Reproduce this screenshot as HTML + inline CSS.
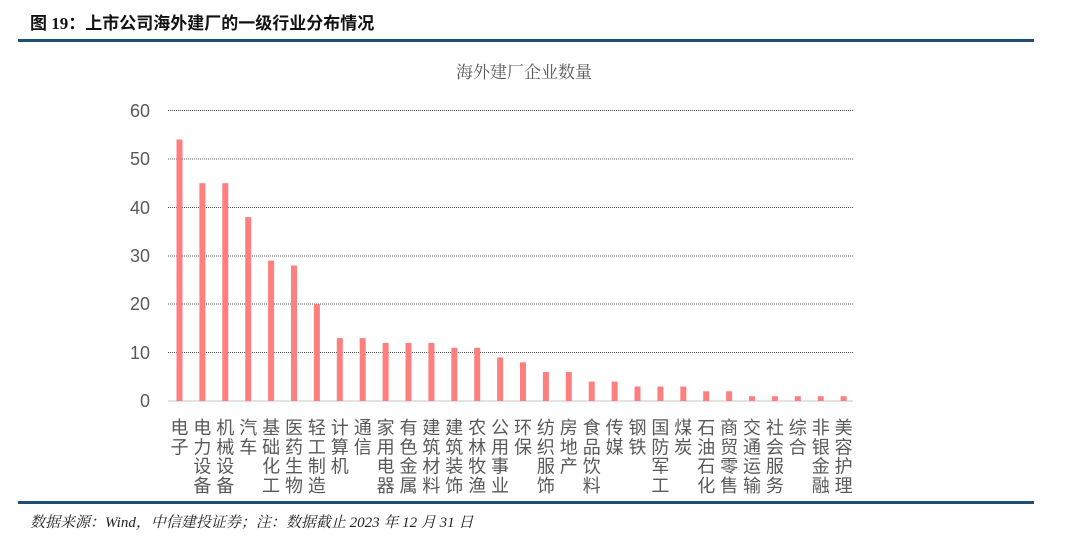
<!DOCTYPE html>
<html><head><meta charset="utf-8"><style>
html,body{margin:0;padding:0;background:#fff;width:1080px;height:555px;overflow:hidden}
</style></head><body>
<svg width="1080" height="555" xmlns="http://www.w3.org/2000/svg" font-family="'Liberation Sans','Noto Sans CJK SC',sans-serif">
<text x="30" y="29" font-size="17" font-weight="bold" fill="#111" font-family="'Liberation Serif','Noto Sans CJK SC',sans-serif">图 19：上市公司海外建厂的一级行业分布情况</text>
<rect x="18" y="39" width="1016" height="3" fill="#1f4e79"/>
<text x="524" y="78" font-size="17" fill="#595959" text-anchor="middle" font-family="'Noto Serif CJK SC',serif">海外建厂企业数量</text>
<g stroke="#555" stroke-width="1" stroke-dasharray="1,1">
<line x1="168" x2="853" y1="110.5" y2="110.5"/>
<line x1="168" x2="853" y1="159" y2="159"/>
<line x1="168" x2="853" y1="207.5" y2="207.5"/>
<line x1="168" x2="853" y1="256" y2="256"/>
<line x1="168" x2="853" y1="304" y2="304"/>
<line x1="168" x2="853" y1="352.5" y2="352.5"/>
</g>
<line x1="168" x2="853" y1="401" y2="401" stroke="#d9d9d9" stroke-width="1.5"/>
<g font-size="18" fill="#595959" text-anchor="end">
<text x="150" y="117">60</text><text x="150" y="165">50</text><text x="150" y="214">40</text>
<text x="150" y="262">30</text><text x="150" y="310">20</text><text x="150" y="359">10</text><text x="150" y="407">0</text>
</g>
<g fill="#ff7f7f">
<rect x="176.5" y="139.6" width="6" height="261.4"/>
<rect x="199.4" y="183.2" width="6" height="217.8"/>
<rect x="222.3" y="183.2" width="6" height="217.8"/>
<rect x="245.2" y="217.1" width="6" height="183.9"/>
<rect x="268.1" y="260.6" width="6" height="140.4"/>
<rect x="291.0" y="265.5" width="6" height="135.5"/>
<rect x="313.9" y="304.2" width="6" height="96.8"/>
<rect x="336.8" y="338.1" width="6" height="62.9"/>
<rect x="359.7" y="338.1" width="6" height="62.9"/>
<rect x="382.6" y="342.9" width="6" height="58.1"/>
<rect x="405.5" y="342.9" width="6" height="58.1"/>
<rect x="428.4" y="342.9" width="6" height="58.1"/>
<rect x="451.3" y="347.8" width="6" height="53.2"/>
<rect x="474.2" y="347.8" width="6" height="53.2"/>
<rect x="497.1" y="357.4" width="6" height="43.6"/>
<rect x="520.0" y="362.3" width="6" height="38.7"/>
<rect x="542.9" y="372" width="6" height="29"/>
<rect x="565.8" y="372" width="6" height="29"/>
<rect x="588.7" y="381.6" width="6" height="19.4"/>
<rect x="611.6" y="381.6" width="6" height="19.4"/>
<rect x="634.5" y="386.5" width="6" height="14.5"/>
<rect x="657.4" y="386.5" width="6" height="14.5"/>
<rect x="680.3" y="386.5" width="6" height="14.5"/>
<rect x="703.2" y="391.3" width="6" height="9.7"/>
<rect x="726.1" y="391.3" width="6" height="9.7"/>
<rect x="749.0" y="396.2" width="6" height="4.8"/>
<rect x="771.9" y="396.2" width="6" height="4.8"/>
<rect x="794.8" y="396.2" width="6" height="4.8"/>
<rect x="817.7" y="396.2" width="6" height="4.8"/>
<rect x="840.6" y="396.2" width="6" height="4.8"/>
</g>
<g font-size="18" fill="#595959" text-anchor="middle">
<text y="434"><tspan x="179.5">电</tspan><tspan x="179.5" dy="19.3">子</tspan></text>
<text y="434"><tspan x="202.4">电</tspan><tspan x="202.4" dy="19.3">力</tspan><tspan x="202.4" dy="19.3">设</tspan><tspan x="202.4" dy="19.3">备</tspan></text>
<text y="434"><tspan x="225.3">机</tspan><tspan x="225.3" dy="19.3">械</tspan><tspan x="225.3" dy="19.3">设</tspan><tspan x="225.3" dy="19.3">备</tspan></text>
<text y="434"><tspan x="248.2">汽</tspan><tspan x="248.2" dy="19.3">车</tspan></text>
<text y="434"><tspan x="271.1">基</tspan><tspan x="271.1" dy="19.3">础</tspan><tspan x="271.1" dy="19.3">化</tspan><tspan x="271.1" dy="19.3">工</tspan></text>
<text y="434"><tspan x="294.0">医</tspan><tspan x="294.0" dy="19.3">药</tspan><tspan x="294.0" dy="19.3">生</tspan><tspan x="294.0" dy="19.3">物</tspan></text>
<text y="434"><tspan x="316.9">轻</tspan><tspan x="316.9" dy="19.3">工</tspan><tspan x="316.9" dy="19.3">制</tspan><tspan x="316.9" dy="19.3">造</tspan></text>
<text y="434"><tspan x="339.8">计</tspan><tspan x="339.8" dy="19.3">算</tspan><tspan x="339.8" dy="19.3">机</tspan></text>
<text y="434"><tspan x="362.7">通</tspan><tspan x="362.7" dy="19.3">信</tspan></text>
<text y="434"><tspan x="385.6">家</tspan><tspan x="385.6" dy="19.3">用</tspan><tspan x="385.6" dy="19.3">电</tspan><tspan x="385.6" dy="19.3">器</tspan></text>
<text y="434"><tspan x="408.5">有</tspan><tspan x="408.5" dy="19.3">色</tspan><tspan x="408.5" dy="19.3">金</tspan><tspan x="408.5" dy="19.3">属</tspan></text>
<text y="434"><tspan x="431.4">建</tspan><tspan x="431.4" dy="19.3">筑</tspan><tspan x="431.4" dy="19.3">材</tspan><tspan x="431.4" dy="19.3">料</tspan></text>
<text y="434"><tspan x="454.3">建</tspan><tspan x="454.3" dy="19.3">筑</tspan><tspan x="454.3" dy="19.3">装</tspan><tspan x="454.3" dy="19.3">饰</tspan></text>
<text y="434"><tspan x="477.2">农</tspan><tspan x="477.2" dy="19.3">林</tspan><tspan x="477.2" dy="19.3">牧</tspan><tspan x="477.2" dy="19.3">渔</tspan></text>
<text y="434"><tspan x="500.1">公</tspan><tspan x="500.1" dy="19.3">用</tspan><tspan x="500.1" dy="19.3">事</tspan><tspan x="500.1" dy="19.3">业</tspan></text>
<text y="434"><tspan x="523.0">环</tspan><tspan x="523.0" dy="19.3">保</tspan></text>
<text y="434"><tspan x="545.9">纺</tspan><tspan x="545.9" dy="19.3">织</tspan><tspan x="545.9" dy="19.3">服</tspan><tspan x="545.9" dy="19.3">饰</tspan></text>
<text y="434"><tspan x="568.8">房</tspan><tspan x="568.8" dy="19.3">地</tspan><tspan x="568.8" dy="19.3">产</tspan></text>
<text y="434"><tspan x="591.7">食</tspan><tspan x="591.7" dy="19.3">品</tspan><tspan x="591.7" dy="19.3">饮</tspan><tspan x="591.7" dy="19.3">料</tspan></text>
<text y="434"><tspan x="614.6">传</tspan><tspan x="614.6" dy="19.3">媒</tspan></text>
<text y="434"><tspan x="637.5">钢</tspan><tspan x="637.5" dy="19.3">铁</tspan></text>
<text y="434"><tspan x="660.4">国</tspan><tspan x="660.4" dy="19.3">防</tspan><tspan x="660.4" dy="19.3">军</tspan><tspan x="660.4" dy="19.3">工</tspan></text>
<text y="434"><tspan x="683.3">煤</tspan><tspan x="683.3" dy="19.3">炭</tspan></text>
<text y="434"><tspan x="706.2">石</tspan><tspan x="706.2" dy="19.3">油</tspan><tspan x="706.2" dy="19.3">石</tspan><tspan x="706.2" dy="19.3">化</tspan></text>
<text y="434"><tspan x="729.1">商</tspan><tspan x="729.1" dy="19.3">贸</tspan><tspan x="729.1" dy="19.3">零</tspan><tspan x="729.1" dy="19.3">售</tspan></text>
<text y="434"><tspan x="752.0">交</tspan><tspan x="752.0" dy="19.3">通</tspan><tspan x="752.0" dy="19.3">运</tspan><tspan x="752.0" dy="19.3">输</tspan></text>
<text y="434"><tspan x="774.9">社</tspan><tspan x="774.9" dy="19.3">会</tspan><tspan x="774.9" dy="19.3">服</tspan><tspan x="774.9" dy="19.3">务</tspan></text>
<text y="434"><tspan x="797.8">综</tspan><tspan x="797.8" dy="19.3">合</tspan></text>
<text y="434"><tspan x="820.7">非</tspan><tspan x="820.7" dy="19.3">银</tspan><tspan x="820.7" dy="19.3">金</tspan><tspan x="820.7" dy="19.3">融</tspan></text>
<text y="434"><tspan x="843.6">美</tspan><tspan x="843.6" dy="19.3">容</tspan><tspan x="843.6" dy="19.3">护</tspan><tspan x="843.6" dy="19.3">理</tspan></text>
</g>
<rect x="18" y="501" width="1016" height="3" fill="#1f4e79"/>
<text x="30" y="527" font-size="15" font-style="italic" fill="#222" font-family="'Liberation Serif','Noto Serif CJK SC',serif">数据来源：Wind，中信建投证券；注：数据截止 2023 年 12 月 31 日</text>
</svg>
</body></html>
